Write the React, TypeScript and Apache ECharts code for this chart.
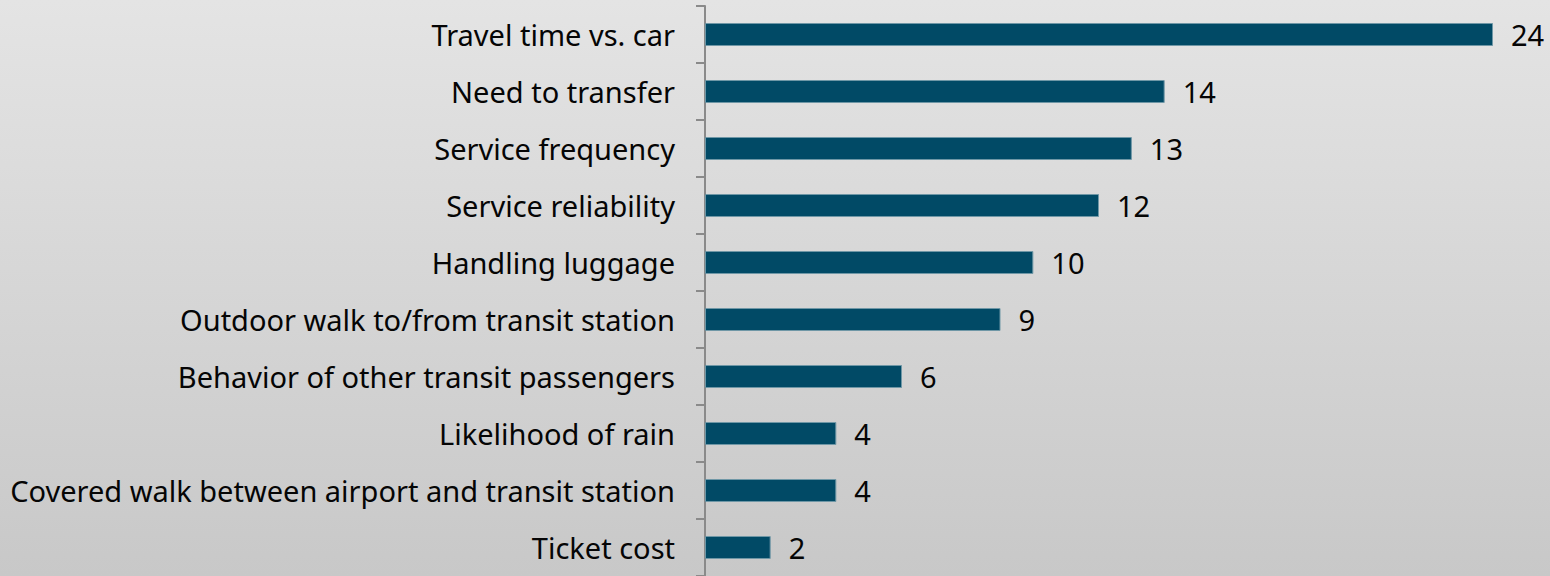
import React, { useEffect, useRef } from "react";
import * as echarts from "echarts";

const categories = [
  "Travel time vs. car",
  "Need to transfer",
  "Service frequency",
  "Service reliability",
  "Handling luggage",
  "Outdoor walk to/from transit station",
  "Behavior of other transit passengers",
  "Likelihood of rain",
  "Covered walk between airport and transit station",
  "Ticket cost",
];
const values = [24, 14, 13, 12, 10, 9, 6, 4, 4, 2];

const FONT = "'Noto Sans', sans-serif";

export default function App() {
  const ref = useRef<HTMLDivElement>(null);
  useEffect(() => {
    const chart = echarts.init(ref.current!, null, { renderer: "svg" });
    chart.setOption({
      animation: false,
      backgroundColor: new echarts.graphic.LinearGradient(0, 0, 0, 1, [
        { offset: 0, color: "#e4e4e4" },
        { offset: 1, color: "#c8c8c8" },
      ]),
      grid: { left: 705, right: 57, top: 6, bottom: 0, containLabel: false },
      xAxis: {
        type: "value",
        min: 0,
        max: 24,
        show: false,
      },
      yAxis: {
        type: "category",
        data: categories,
        inverse: true,
        axisLine: { show: true, lineStyle: { color: "#8a8a8a", width: 2 } },
        axisTick: { show: true, length: 9, lineStyle: { color: "#8a8a8a", width: 2 } },
        axisLabel: {
          color: "#050505",
          fontSize: 29,
          fontFamily: FONT,
          margin: 30,
          padding: [0, 0, 4, 0],
        },
        splitLine: { show: false },
      },
      series: [
        {
          type: "bar",
          data: values,
          barWidth: 23,
          itemStyle: { color: "#014a66", borderColor: "#6f97a6", borderWidth: 1 },
          label: {
            show: true,
            position: "right",
            distance: 18,
            color: "#050505",
            fontSize: 29,
            fontFamily: FONT,
          },
        },
      ],
    });
    return () => chart.dispose();
  }, []);
  return (
    <div
      ref={ref}
      style={{ position: "fixed", left: 0, top: 0, width: 1550, height: 576 }}
    />
  );
}
